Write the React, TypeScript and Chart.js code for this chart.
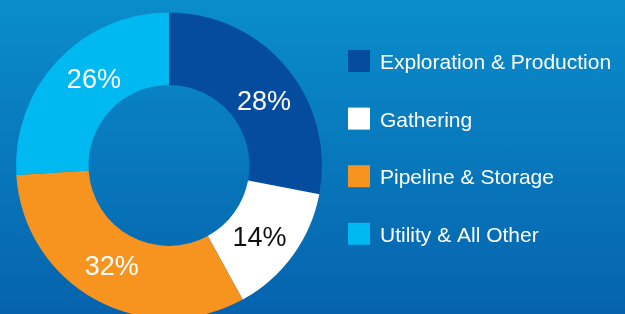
import React, { useEffect, useRef } from "react";
import { Chart, registerables } from "chart.js";

Chart.register(...registerables);

const categories = ["Exploration & Production", "Gathering", "Pipeline & Storage", "Utility & All Other"];
const shares = [28, 14, 32, 26];
const sliceColors = ["#064c9e", "#ffffff", "#f7941f", "#00b9f1"];
const labelColors = ["#ffffff", "#111111", "#ffffff", "#ffffff"];

const FONT = '"Liberation Sans", Arial, Helvetica, sans-serif';

const labelNudge = [
  [5, 11.5],
  [-4, 4.5],
  [-1, -0.5],
  [10, -5.5],
];

const valueLabels = {
  id: "valueLabels",
  afterDatasetsDraw(chart: any) {
    const ctx = chart.ctx;
    const meta = chart.getDatasetMeta(0);
    const data = chart.data.datasets[0].data;
    ctx.save();
    ctx.font = `27px ${FONT}`;
    ctx.textAlign = "center";
    ctx.textBaseline = "middle";
    meta.data.forEach((arc: any, i: number) => {
      const p = arc.tooltipPosition(true);
      const n = labelNudge[i] || [0, 0];
      ctx.fillStyle = labelColors[i];
      ctx.fillText(`${data[i]}%`, p.x + n[0], p.y + n[1]);
    });
    ctx.restore();
  },
};

const sideLegend = {
  id: "sideLegend",
  afterDraw(chart: any) {
    const ctx = chart.ctx;
    const labels = chart.data.labels as string[];
    const colors = chart.data.datasets[0].backgroundColor as string[];
    ctx.save();
    ctx.font = `21px ${FONT}`;
    ctx.textAlign = "left";
    ctx.textBaseline = "alphabetic";
    labels.forEach((lab, i) => {
      const top = 50 + i * 57.6;
      ctx.fillStyle = colors[i];
      ctx.fillRect(348, top, 22, 22);
      ctx.fillStyle = "#ffffff";
      ctx.fillText(lab, 380, top + 19);
    });
    ctx.restore();
  },
};

export default function App() {
  const ref = useRef<HTMLCanvasElement | null>(null);
  useEffect(() => {
    if (!ref.current) return;
    const chart = new Chart(ref.current, {
      type: "doughnut",
      data: {
        labels: categories,
        datasets: [
          {
            data: shares,
            backgroundColor: sliceColors,
            borderWidth: 0,
            hoverBorderWidth: 0,
            hoverOffset: 0,
          },
        ],
      },
      options: {
        responsive: false,
        animation: false,
        devicePixelRatio: 1,
        events: [],
        radius: 153,
        cutout: 80.5,
        layout: { padding: { left: 16, top: 12.5, right: 303, bottom: 11.5 } },
        plugins: {
          legend: { display: false },
          tooltip: { enabled: false },
        },
      } as any,
      plugins: [valueLabels, sideLegend],
    });
    return () => chart.destroy();
  }, []);
  return (
    <div
      style={{
        position: "fixed",
        left: 0,
        top: 0,
        width: 625,
        height: 314,
        overflow: "hidden",
        background: "linear-gradient(to bottom, #0a8dcb 0%, #0563ad 100%)",
      }}
    >
      <canvas ref={ref} width={625} height={330} style={{ display: "block" }} />
    </div>
  );
}
